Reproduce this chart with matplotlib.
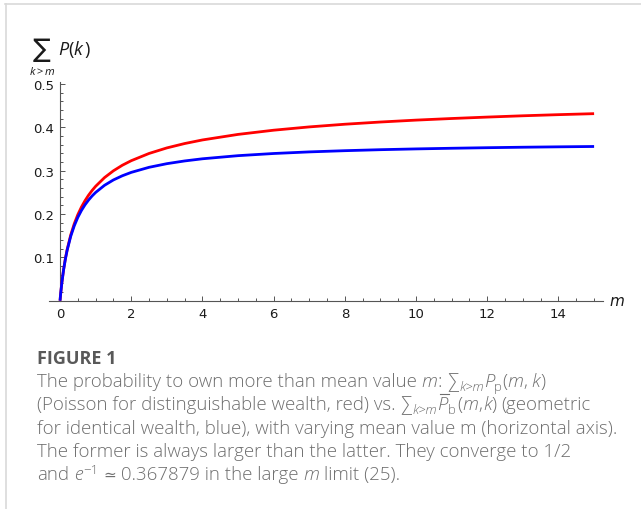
import matplotlib
matplotlib.use('Agg')
import matplotlib.pyplot as plt
from matplotlib.lines import Line2D
from matplotlib.ticker import MultipleLocator, FixedLocator

plt.rcParams['mathtext.fontset'] = 'custom'
plt.rcParams['mathtext.rm'] = 'Open Sans'
plt.rcParams['mathtext.it'] = 'Open Sans:italic'
plt.rcParams['mathtext.bf'] = 'Open Sans:bold'
plt.rcParams['mathtext.fallback'] = 'stixsans'

# mean value m (horizontal axis)
m_vals = [0, 0.01, 0.02, 0.05, 0.1, 0.15, 0.2, 0.3, 0.4, 0.5, 0.6, 0.7, 0.8, 0.9,
          1.0, 1.25, 1.5, 1.75, 2.0, 2.5, 3.0, 3.5, 4.0, 5.0, 6.0, 7.0, 8.0,
          9.0, 10.0, 11.0, 12.0, 13.0, 14.0, 15.0]
# Poisson, distinguishable wealth (red)
poisson_vals = [0, 0.0095, 0.0182, 0.0411, 0.0721, 0.0972, 0.1182, 0.1517, 0.1778,
                0.1988, 0.2161, 0.2308, 0.2435, 0.2545, 0.2642, 0.2843, 0.3000,
                0.3128, 0.3233, 0.3400, 0.3528, 0.3629, 0.3712, 0.3840, 0.3937,
                0.4013, 0.4075, 0.4126, 0.4170, 0.4207, 0.4240, 0.4270, 0.4296, 0.4319]
# geometric, identical wealth (blue)
geom_vals = [0, 0.0095, 0.0181, 0.0409, 0.0715, 0.0961, 0.1165, 0.1487, 0.1731,
             0.1925, 0.2082, 0.2213, 0.2323, 0.2418, 0.2500, 0.2665, 0.2789,
             0.2885, 0.2963, 0.3080, 0.3164, 0.3227, 0.3277, 0.3349, 0.3399,
             0.3436, 0.3464, 0.3487, 0.3505, 0.3520, 0.3533, 0.3544, 0.3553, 0.3561]

x_ticks = [0, 2, 4, 6, 8, 10, 12, 14]
y_ticks = [0.1, 0.2, 0.3, 0.4, 0.5]

W, H = 641, 510


def px(x, y):
    return x / W, 1 - y / H


fig = plt.figure(figsize=(W / 100, H / 100), dpi=100)
ax = fig.add_axes([49 / W, (H - 301.7) / H, (603 - 49) / W, (301.7 - 83) / H])

ax.plot(m_vals, poisson_vals, color='#ff0000', lw=2.0, solid_capstyle='butt', zorder=3)
ax.plot(m_vals, geom_vals, color='#0000ff', lw=2.0, solid_capstyle='butt', zorder=4)

ax.set_xlim(-0.31, 15.25)
ax.set_ylim(0, 0.505)

for s in ['top', 'right']:
    ax.spines[s].set_visible(False)
ax.spines['left'].set_position(('data', 0))
for s in ['left', 'bottom']:
    ax.spines[s].set_color('#555555')
    ax.spines[s].set_linewidth(0.8)

ax.xaxis.set_major_locator(FixedLocator(x_ticks))
ax.xaxis.set_minor_locator(MultipleLocator(0.5))
ax.yaxis.set_major_locator(FixedLocator(y_ticks))
ax.yaxis.set_minor_locator(MultipleLocator(0.02))
ax.set_xticklabels([str(t) for t in x_ticks])
ax.set_yticklabels([f'{t:.1f}' for t in y_ticks])

ax.tick_params(which='both', direction='in', color='#555555', width=0.7,
               labelsize=9.5, labelcolor='#1a1a1a')
ax.tick_params(which='major', length=3.5)
ax.tick_params(which='minor', length=2)
ax.tick_params(axis='x', pad=4.5)
ax.tick_params(axis='y', pad=4)

# axis labels
fig.text(*px(617, 302), 'm', fontsize=11, style='italic', ha='center', va='center',
         color='#1a1a1a')
fig.text(*px(42, 57), '\u2211', fontsize=19, ha='center', va='baseline',
         family=['DejaVu Sans'], color='#1a1a1a')
fig.text(*px(58, 55), '$P(k\\,)$', fontsize=13, ha='left', va='baseline', color='#1a1a1a')
fig.text(*px(42, 75), '$k>m$', fontsize=8, ha='center', va='baseline', color='#1a1a1a')

# page frame
fig.add_artist(Line2D([5 / W, 1], [1 - 4.5 / H] * 2, transform=fig.transFigure,
                      color='#d9d9d9', lw=1.2))
fig.add_artist(Line2D([5.5 / W] * 2, [0, 1 - 4.5 / H], transform=fig.transFigure,
                      color='#d9d9d9', lw=1.2))

# caption
cap_fam = ['Open Sans', 'DejaVu Sans']
cap_color = '#6e6e6e'
fs = 13.4
sub_fs = 9.5
sp = 0.26 * fs * 100 / 72
renderer = fig.canvas.get_renderer()

fig.text(*px(37, 364), 'FIGURE 1', fontsize=13, fontweight='bold', color='#595959',
         family=cap_fam, va='baseline')


def write_line(x, y, parts):
    # parts: (text, gap after in px, extra text options)
    for text, gap, opts in parts:
        opts = dict(opts)
        dy = opts.pop('dy', 0)
        bar = opts.pop('bar', False)
        kw = dict(fontsize=fs, color=cap_color, family=cap_fam, fontweight='light',
                  va='baseline')
        kw.update(opts)
        t = fig.text(*px(x, y - dy), text, **kw)
        bb = t.get_window_extent(renderer)
        if bar:
            ytop = H - (y - 0.714 * fs * 100 / 72) + 2.5
            fig.add_artist(Line2D([(bb.x0 + 3) / W, (bb.x1 + 1) / W], [ytop / H] * 2,
                                  transform=fig.transFigure, color=cap_color, lw=0.8))
        x = x + bb.width + gap


IT = {'style': 'italic'}
SUB = {'fontsize': sub_fs, 'dy': -4}
SUB_IT = {'fontsize': sub_fs, 'dy': -4, 'style': 'italic'}
SYM = {'fontweight': 'normal', 'family': ['DejaVu Sans'], 'fontsize': 11}

write_line(37, 387, [
    ('The probability to own more than mean value', sp, {}),
    ('m', 0, IT), (':', sp, {}),
    ('\u2211', 0.5, {}), ('k>m', 0, SUB_IT),
    ('P', 0, IT), ('p', 0, SUB), ('(', 0, {}), ('m', 0, IT), (',', sp, {}),
    ('k', 0, IT), (')', 0, {}),
])
write_line(37, 387 + 23.3, [
    ('(Poisson for distinguishable wealth, red) vs.', sp, {}),
    ('\u2211', 0.5, {}), ('k>m', 0, SUB_IT),
    ('P', 0, {'style': 'italic', 'bar': True}), ('b', 2, SUB),
    ('(', 0, {}), ('m', 0, IT), (',', 0.5, {}), ('k', 0, IT), (')', sp, {}),
    ('(geometric', 0, {}),
])
write_line(37, 387 + 23.3 * 2, [
    ('for identical wealth, blue), with varying mean value m (horizontal axis).', 0, {}),
])
write_line(37, 387 + 23.3 * 3, [
    ('The former is always larger than the latter. They converge to 1/2', 0, {}),
])
write_line(37, 387 + 23.3 * 4, [
    ('and', sp, {}), ('e', 0.5, IT), ('\u22121', sp, {'fontsize': sub_fs, 'dy': 6}),
    ('\u2243', sp, SYM), ('0.367879 in the large', sp, {}), ('m', sp, IT),
    ('limit (25).', 0, {}),
])

fig.savefig('out.png', dpi=100)
